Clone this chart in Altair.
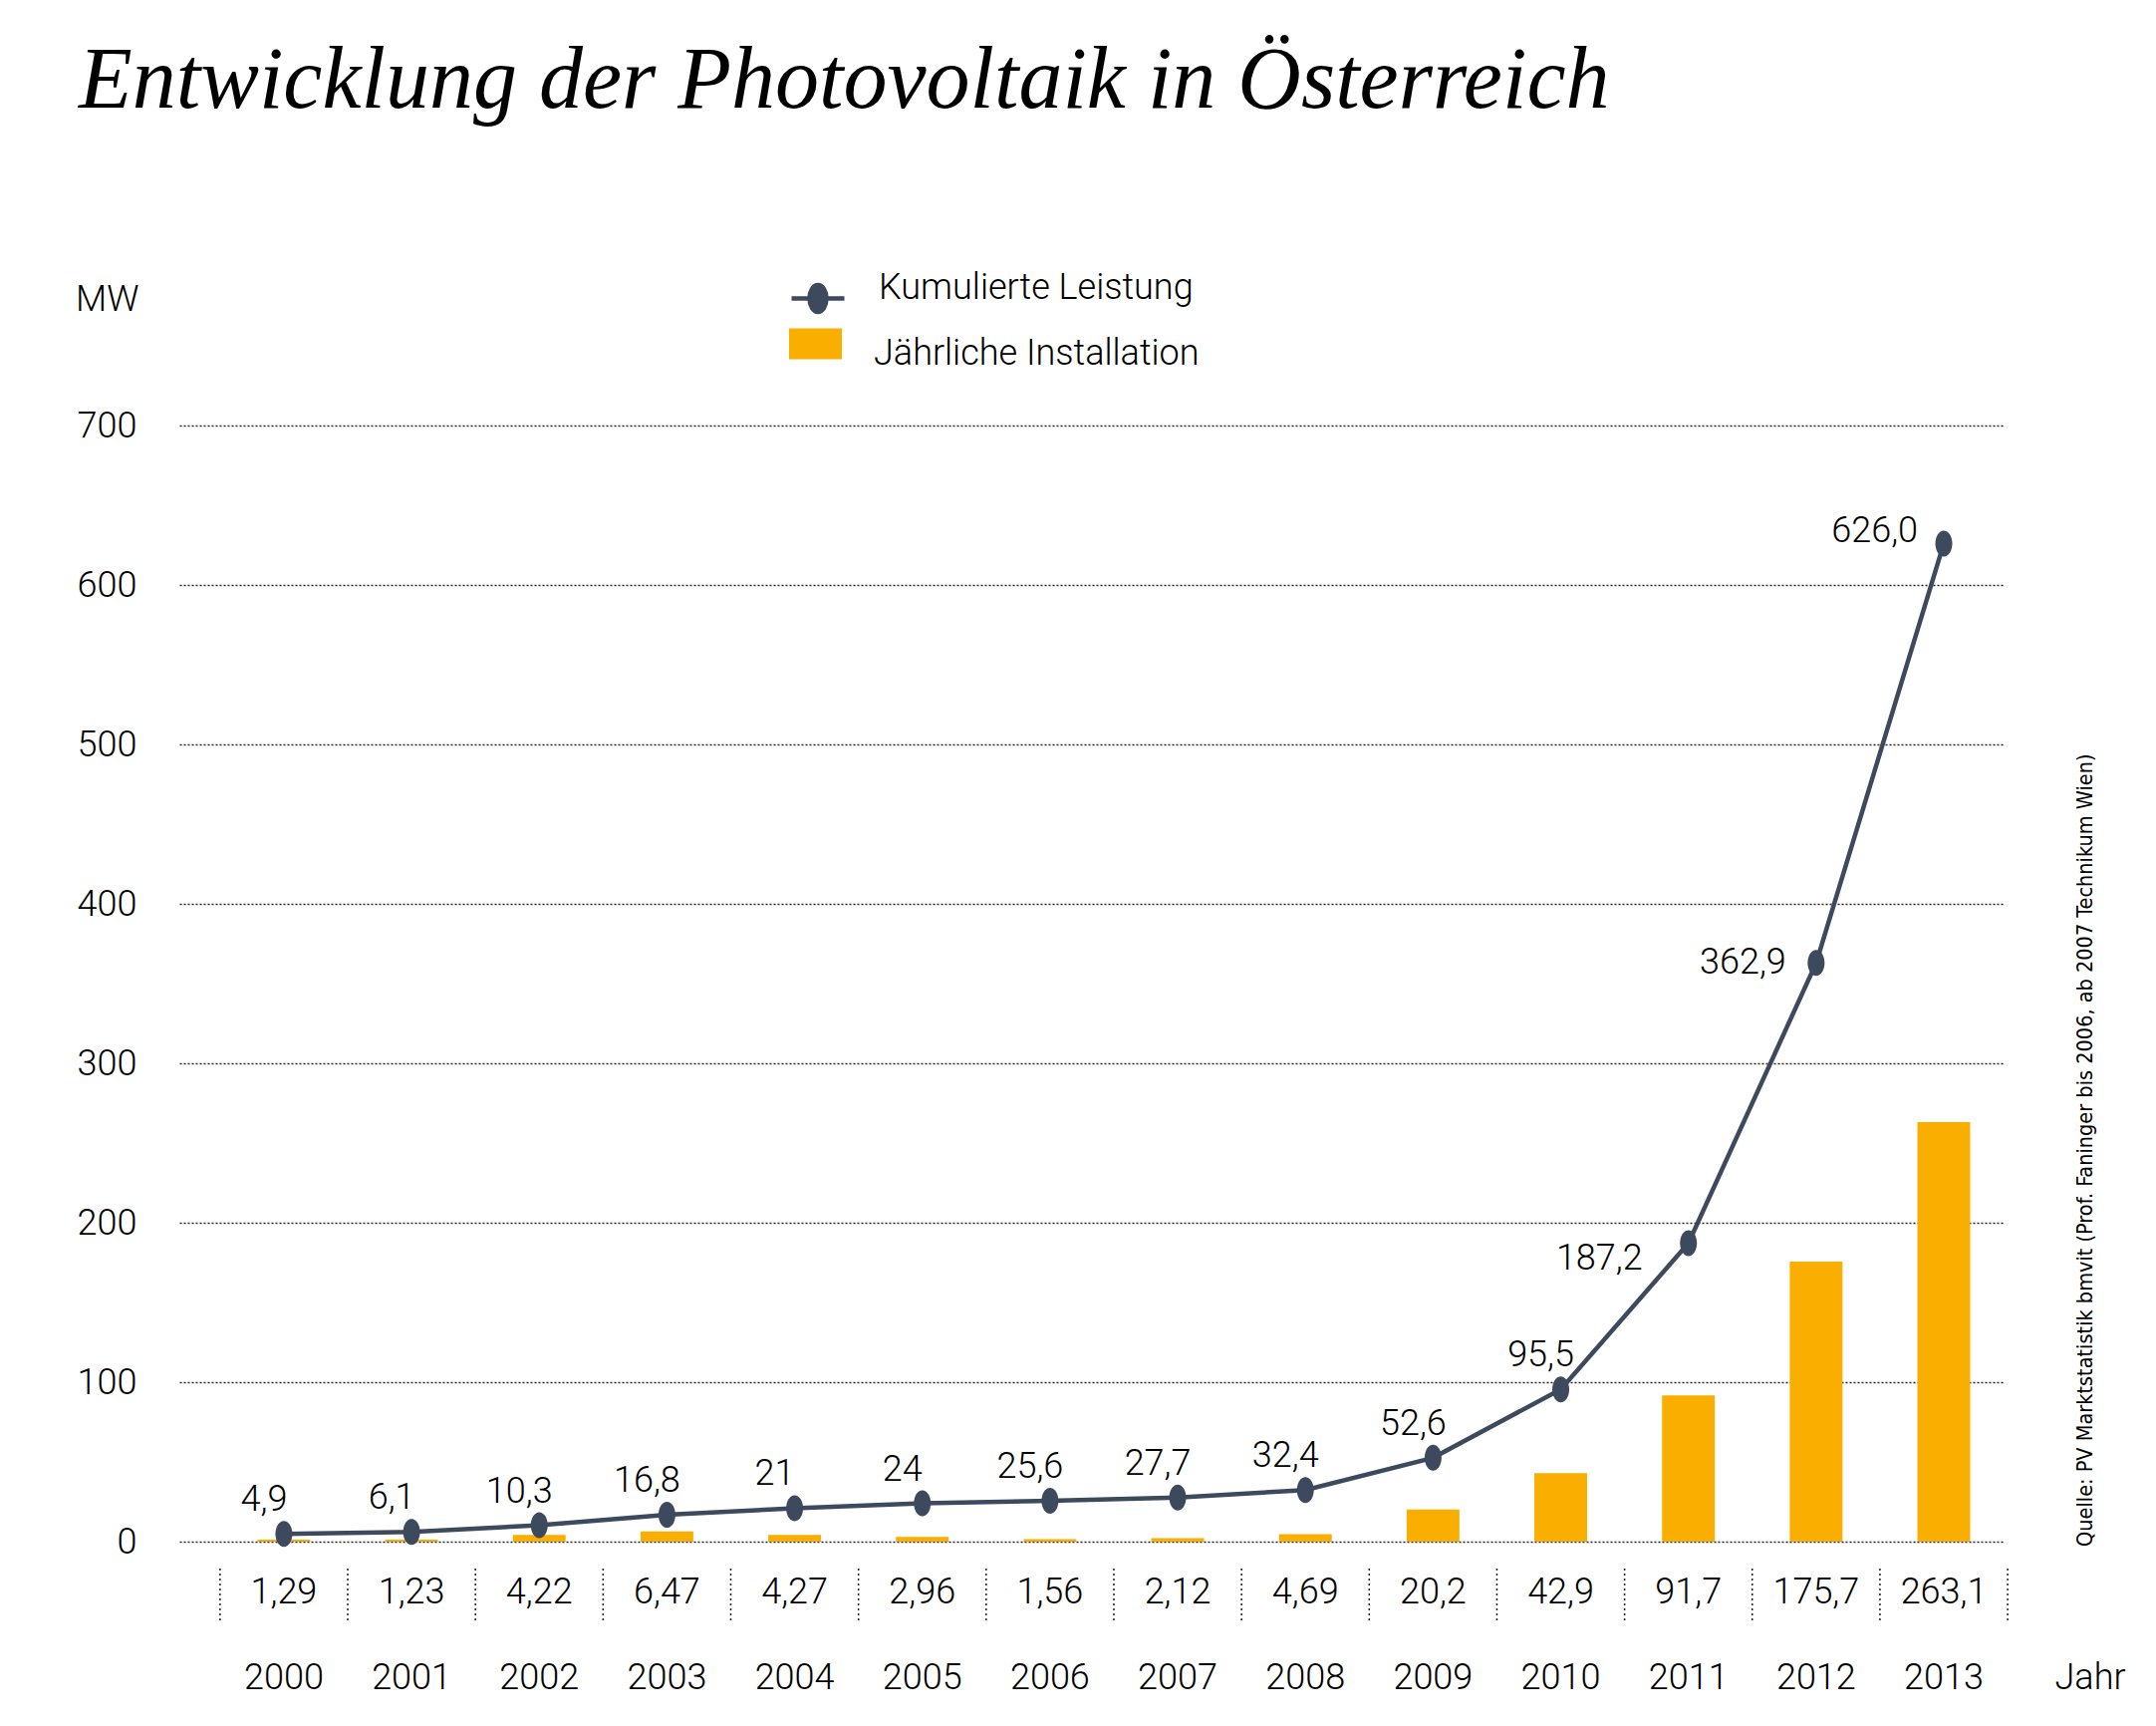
import altair as alt
import pandas as pd

# ---------------- data ----------------
years = [str(y) for y in range(2000, 2014)]
annual = [1.29, 1.23, 4.22, 6.47, 4.27, 2.96, 1.56, 2.12, 4.69, 20.2, 42.9, 91.7, 175.7, 263.1]
annual_labels = ["1,29", "1,23", "4,22", "6,47", "4,27", "2,96", "1,56", "2,12", "4,69",
                 "20,2", "42,9", "91,7", "175,7", "263,1"]
cumulative = [4.9, 6.1, 10.3, 16.8, 21, 24, 25.6, 27.7, 32.4, 52.6, 95.5, 187.2, 362.9, 626.0]
cumulative_labels = ["4,9", "6,1", "10,3", "16,8", "21", "24", "25,6", "27,7", "32,4",
                     "52,6", "95,5", "187,2", "362,9", "626,0"]
y_ticks = [0, 100, 200, 300, 400, 500, 600, 700]
series_line = "Kumulierte Leistung"
series_bar = "Jährliche Installation"
title_text = "Entwicklung der Photovoltaik in Österreich"
source_text = "Quelle: PV Marktstatistik bmvit (Prof. Faninger bis 2006, ab 2007 Technikum Wien)"

df = pd.DataFrame({
    "year": years,
    "annual": annual,
    "annual_label": annual_labels,
    "cum": cumulative,
    "cum_label": cumulative_labels,
})
df["s_line"] = series_line
df["s_bar"] = series_bar

# ---------------- style ----------------
FONT = "Roboto"
FW = 300
NARROW = "Liberation Sans Narrow, DejaVu Sans Condensed, Roboto"
ORANGE = "#F9AE00"
SLATE = "#3D4A5E"
W, H = 1830, 1120
P_IN, P_OUT, ALIGN = 0.587, 0.433, 0.707
STEP = W / (len(years) - P_IN + 2 * P_OUT)

ELLIPSE = "M0,-1A0.654,1 0 1,1 0,1A0.654,1 0 1,1 0,-1Z"
LEG_LINE = "M-1,0L1,0M0,-0.51A0.32,0.51 0 1,1 0,0.51A0.32,0.51 0 1,1 0,-0.51Z"
LEG_RECT = "M-1,-0.965L1,-0.965L1,0.205L-1,0.205Z"

# label placement (style) for the last three, steeper points
HIGH_OFFSETS = {"2011": (-46, 16), "2012": (-30, 0), "2013": (-26, -12)}

x_axis = alt.Axis(
    title="Jahr", labelFont=FONT, labelFontSize=36, labelFontWeight=FW, labelColor="black",
    labelPadding=136, labelBaseline="middle", labelAngle=0,
    ticks=False, tickSize=0, domain=False, grid=False,
    titleX=1882, titleY=136, titleAlign="left", titleBaseline="middle",
    titleFont=FONT, titleFontSize=36, titleFontWeight=FW, titleColor="black",
)
x_scale = alt.Scale(paddingInner=P_IN, paddingOuter=P_OUT, align=ALIGN)
y_axis = alt.Axis(
    values=y_ticks, title="MW", titleAngle=0, titleAlign="right", titleBaseline="middle",
    titleX=-41, titleY=-127, titleFont=FONT, titleFontSize=36, titleFontWeight=FW,
    titleColor="black",
    labelFont=FONT, labelFontSize=36, labelFontWeight=FW, labelColor="black",
    labelPadding=43, labelBaseline="middle",
    ticks=False, domain=False, grid=True, gridDash=[2, 2], gridColor="#222222",
    gridWidth=1.5,
)
y_scale = alt.Scale(domain=[0, 700], nice=False)


def X():
    return alt.X("year:N", sort=years, scale=x_scale, axis=x_axis)


def Y(field):
    return alt.Y(field, scale=y_scale, axis=y_axis)


base = alt.Chart(df)

bars = base.mark_bar().encode(
    x=X(),
    y=Y("annual:Q"),
    fill=alt.Fill("s_bar:N", scale=alt.Scale(domain=[series_bar], range=[ORANGE]),
                  legend=alt.Legend(
                      title=None, orient="none", legendX=612, legendY=-98.5,
                      symbolType=LEG_RECT, symbolSize=2809, symbolStrokeWidth=0,
                      labelFont=FONT, labelFontSize=36, labelFontWeight=FW,
                      labelColor="black", labelLimit=0,
                      labelOffset=32, padding=0, labelBaseline="middle")),
)

line = base.mark_line(strokeWidth=4.5).encode(
    x=X(),
    y=Y("cum:Q"),
    stroke=alt.Stroke("s_line:N", scale=alt.Scale(domain=[series_line], range=[SLATE]),
                      legend=alt.Legend(
                          title=None, orient="none", legendX=612, legendY=-156.5,
                          symbolType=LEG_LINE, symbolSize=2809, symbolStrokeWidth=4.5,
                          symbolFillColor=SLATE, symbolStrokeColor=SLATE,
                          labelFont=FONT, labelFontSize=36, labelFontWeight=FW,
                          labelColor="black", labelLimit=0,
                          labelOffset=32, padding=0, labelBaseline="alphabetic")),
)

points = base.mark_point(shape=ELLIPSE, size=676, filled=True, opacity=1,
                         color=SLATE, strokeWidth=0).encode(
    x=X(),
    y=Y("cum:Q"),
)

labels_low = base.transform_filter("toNumber(datum.year) < 2011").mark_text(
    align="center", baseline="middle", dx=-20, dy=-34,
    font=FONT, fontSize=36, fontWeight=FW, color="black",
).encode(
    x=X(),
    y=Y("cum:Q"),
    text="cum_label:N",
)

labels_high = [
    base.transform_filter(f"datum.year == '{yr}'").mark_text(
        align="right", baseline="middle", dx=ddx, dy=ddy,
        font=FONT, fontSize=36, fontWeight=FW, color="black",
    ).encode(
        x=X(),
        y=Y("cum:Q"),
        text="cum_label:N",
    )
    for yr, (ddx, ddy) in HIGH_OFFSETS.items()
]

annual_text = base.mark_text(
    align="center", baseline="middle", dy=51,
    font=FONT, fontSize=36, fontWeight=FW, color="black",
).encode(
    x=X(),
    y=alt.YDatum(0, scale=y_scale, axis=y_axis),
    text="annual_label:N",
)

separators = base.mark_rule(strokeDash=[2, 3], strokeWidth=1.5, color="#222222",
                            xOffset=-STEP / 2).encode(
    x=X(),
    y=alt.value(H + 27),
    y2=alt.value(H + 80),
)

separator_end = base.transform_filter(f"datum.year == '{years[-1]}'").mark_rule(
    strokeDash=[2, 3], strokeWidth=1.5, color="#222222", xOffset=STEP / 2).encode(
    x=X(),
    y=alt.value(H + 27),
    y2=alt.value(H + 80),
)

source = alt.Chart(pd.DataFrame({"t": [source_text]})).mark_text(
    angle=270, align="left", baseline="alphabetic",
    font=NARROW, fontSize=21.5, color="black",
).encode(
    text="t:N",
    x=alt.value(1920),
    y=alt.value(1125),
)

chart = alt.layer(
    bars, line, points, labels_low, *labels_high, annual_text,
    separators, separator_end, source,
).resolve_scale(fill="independent", stroke="independent").properties(
    width=W,
    height=H,
    background="white",
    autosize=alt.AutoSizeParams(type="none"),
    padding={"left": 172, "top": 419, "right": 140, "bottom": 170},
    title=alt.Title(
        title_text, font="Liberation Serif", fontStyle="italic", fontSize=88,
        fontWeight="normal", color="black", anchor="start", frame="group",
        dx=-101, offset=75, baseline="alphabetic",
    ),
).configure_view(strokeWidth=0, stroke="transparent")

chart.save("out.html", embed_options={"renderer": "svg", "actions": False})
